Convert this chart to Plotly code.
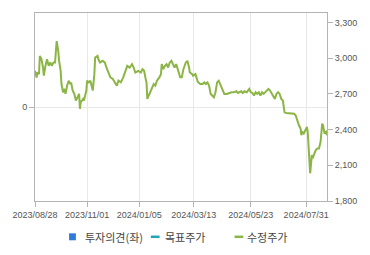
import plotly.graph_objects as go

dates = [
    "2023-08-28", "2023-08-30", "2023-08-31", "2023-09-02", "2023-09-03", "2023-09-05", "2023-09-07", "2023-09-08",
    "2023-09-10", "2023-09-12", "2023-09-14", "2023-09-16", "2023-09-18", "2023-09-20", "2023-09-22", "2023-09-24",
    "2023-09-25", "2023-09-26", "2023-09-27", "2023-09-29", "2023-09-30", "2023-10-02", "2023-10-04", "2023-10-05",
    "2023-10-07", "2023-10-09", "2023-10-11", "2023-10-12", "2023-10-14", "2023-10-16", "2023-10-18", "2023-10-20",
    "2023-10-22", "2023-10-23", "2023-10-24", "2023-10-27", "2023-10-28", "2023-10-31", "2023-11-01", "2023-11-03",
    "2023-11-05", "2023-11-08", "2023-11-10", "2023-11-11", "2023-11-14", "2023-11-15", "2023-11-17", "2023-11-20",
    "2023-11-23", "2023-11-25", "2023-11-28", "2023-11-30", "2023-12-03", "2023-12-06", "2023-12-08", "2023-12-10",
    "2023-12-13", "2023-12-16", "2023-12-19", "2023-12-21", "2023-12-24", "2023-12-27", "2023-12-29", "2023-12-31",
    "2024-01-04", "2024-01-07", "2024-01-09", "2024-01-11", "2024-01-13", "2024-01-14", "2024-01-15", "2024-01-18",
    "2024-01-21", "2024-01-23", "2024-01-25", "2024-01-27", "2024-01-30", "2024-02-01", "2024-02-02", "2024-02-04",
    "2024-02-06", "2024-02-08", "2024-02-10", "2024-02-12", "2024-02-14", "2024-02-16", "2024-02-18", "2024-02-20",
    "2024-02-23", "2024-02-25", "2024-02-27", "2024-02-29", "2024-03-03", "2024-03-05", "2024-03-07", "2024-03-08",
    "2024-03-11", "2024-03-12", "2024-03-15", "2024-03-16", "2024-03-18", "2024-03-21", "2024-03-24", "2024-03-26",
    "2024-03-28", "2024-03-30", "2024-04-01", "2024-04-03", "2024-04-05", "2024-04-07", "2024-04-09", "2024-04-11",
    "2024-04-13", "2024-04-15", "2024-04-17", "2024-04-20", "2024-04-23", "2024-04-26", "2024-04-29", "2024-05-02",
    "2024-05-05", "2024-05-07", "2024-05-11", "2024-05-13", "2024-05-15", "2024-05-18", "2024-05-21", "2024-05-23",
    "2024-05-25", "2024-05-27", "2024-05-29", "2024-05-31", "2024-06-02", "2024-06-04", "2024-06-06", "2024-06-08",
    "2024-06-10", "2024-06-12", "2024-06-14", "2024-06-16", "2024-06-18", "2024-06-20", "2024-06-22", "2024-06-24",
    "2024-06-26", "2024-06-28", "2024-06-30", "2024-07-02", "2024-07-04", "2024-07-06", "2024-07-09", "2024-07-12",
    "2024-07-16", "2024-07-18", "2024-07-20", "2024-07-22", "2024-07-24", "2024-07-25", "2024-07-26", "2024-07-28",
    "2024-07-30", "2024-08-01", "2024-08-02", "2024-08-03", "2024-08-04", "2024-08-05", "2024-08-06", "2024-08-07",
    "2024-08-08", "2024-08-10", "2024-08-12", "2024-08-14", "2024-08-16", "2024-08-18", "2024-08-19", "2024-08-20",
    "2024-08-21", "2024-08-22", "2024-08-23", "2024-08-25", "2024-08-26",
]

adj_price = [
    2894, 2838, 2880, 2866, 3019, 2992, 2922, 2853,
    2936, 2992, 2936, 2964, 2936, 2964, 2964, 3144,
    3103, 3061, 2978, 2894, 2783, 2714, 2742, 2700,
    2769, 2811, 2783, 2797, 2728, 2700, 2644, 2672,
    2700, 2575, 2631, 2658, 2644, 2728, 2811, 2797,
    2811, 2728, 2866, 3005, 3019, 2992, 2964, 2978,
    2964, 2922, 2880, 2839, 2825, 2783, 2769, 2811,
    2797, 2839, 2894, 2936, 2922, 2950, 2922, 2880,
    2894, 2880, 2908, 2894, 2825, 2797, 2658, 2700,
    2742, 2783, 2769, 2811, 2839, 2866, 2950, 2908,
    2936, 2950, 2922, 2964, 2978, 2950, 2922, 2950,
    2880, 2839, 2839, 2908, 2964, 2978, 2922, 2880,
    2866, 2853, 2866, 2840, 2800, 2783, 2783, 2797,
    2783, 2797, 2769, 2700, 2686, 2672, 2714, 2797,
    2811, 2783, 2742, 2700, 2700, 2708, 2714, 2714,
    2722, 2708, 2722, 2708, 2722, 2714, 2742, 2714,
    2708, 2686, 2714, 2700, 2714, 2686, 2714, 2700,
    2714, 2728, 2742, 2728, 2700, 2672, 2658, 2700,
    2714, 2700, 2658, 2644, 2547, 2539, 2539, 2533,
    2533, 2519, 2470, 2436, 2410, 2353, 2380, 2367,
    2394, 2422, 2380, 2283, 2158, 2033, 2103, 2186,
    2158, 2200, 2228, 2242, 2242, 2297, 2436, 2450,
    2436, 2394, 2367, 2380, 2353,
]

tick_dates = ["2023-08-28", "2023-11-01", "2024-01-05", "2024-03-13", "2024-05-23", "2024-07-31"]
tick_labels = ["2023/08/28", "2023/11/01", "2024/01/05", "2024/03/13", "2024/05/23", "2024/07/31"]
price_ticks = [1800, 2100, 2400, 2700, 3000, 3300]

legend_names = ["투자의견(좌)", "목표주가", "수정주가"]
legend_colors = ["#2E7BD9", "#1FA5B3", "#8BB544"]

GRID = "#e8e8e8"
AXIS = "#b4b4b4"
TXT = "#555555"

fig = go.Figure()

# Investment opinion (left axis) - no data in period
fig.add_trace(go.Bar(x=[], y=[], name=legend_names[0], marker_color=legend_colors[0],
                     yaxis="y", showlegend=False))
# Target price - no data in period
fig.add_trace(go.Scatter(x=[], y=[], name=legend_names[1], mode="lines",
                         line=dict(color=legend_colors[1], width=2), yaxis="y2", showlegend=False))
# Adjusted price
fig.add_trace(go.Scatter(x=dates, y=adj_price, name=legend_names[2], mode="lines",
                         line=dict(color=legend_colors[2], width=2), yaxis="y2", showlegend=False))

fig.update_layout(
    width=370, height=255,
    margin=dict(l=27, r=43, t=12, b=54),
    paper_bgcolor="white", plot_bgcolor="white",
    font=dict(family="Liberation Sans, Arial, sans-serif", size=9, color=TXT),
    xaxis=dict(
        type="date",
        range=["2023-08-28", "2024-08-26"],
        tickvals=tick_dates, ticktext=tick_labels,
        showgrid=True, gridcolor=GRID, gridwidth=1,
        showline=True, linecolor=AXIS, linewidth=1, mirror=True,
        ticks="outside", ticklen=5, tickcolor=AXIS,
        tickfont=dict(size=9, color=TXT),
        zeroline=False,
    ),
    yaxis=dict(
        range=[-1, 1],
        tickvals=[0], ticktext=["0"],
        showgrid=True, gridcolor=GRID,
        showline=True, linecolor=AXIS, linewidth=1,
        ticks="outside", ticklen=5, tickcolor=AXIS,
        zeroline=False,
        tickfont=dict(size=9, color=TXT),
    ),
    yaxis2=dict(
        overlaying="y", side="right",
        range=[1800, 3380],
        tickvals=price_ticks, tickformat=",d",
        showgrid=False,
        showline=True, linecolor=AXIS, linewidth=1,
        ticks="outside", ticklen=5, tickcolor=AXIS,
        zeroline=False,
        tickfont=dict(size=9, color=TXT),
    ),
    showlegend=False,
)

# Manual legend (paper coordinates: x from plot-left, y from plot-bottom)
def px_to_paper_x(px):
    return (px - 27) / 300.0

def py_to_paper_y(py):
    return (201 - py) / 189.0

ly = py_to_paper_y(237)
fig.add_shape(type="rect", xref="paper", yref="paper",
              x0=px_to_paper_x(62), x1=px_to_paper_x(69),
              y0=py_to_paper_y(240.5), y1=py_to_paper_y(233.5),
              fillcolor=legend_colors[0], line=dict(width=0))
fig.add_shape(type="line", xref="paper", yref="paper",
              x0=px_to_paper_x(146), x1=px_to_paper_x(155), y0=ly, y1=ly,
              line=dict(color=legend_colors[1], width=2.5))
fig.add_shape(type="line", xref="paper", yref="paper",
              x0=px_to_paper_x(232), x1=px_to_paper_x(241), y0=ly, y1=ly,
              line=dict(color=legend_colors[2], width=2.5))
for name, px in zip(legend_names, [76, 159, 243]):
    fig.add_annotation(text=name, xref="paper", yref="paper",
                       x=px_to_paper_x(px), y=ly, xanchor="left", yanchor="middle",
                       showarrow=False, font=dict(family="Noto Sans CJK KR", size=11, color="#444444"))

fig.write_html("out.html")
